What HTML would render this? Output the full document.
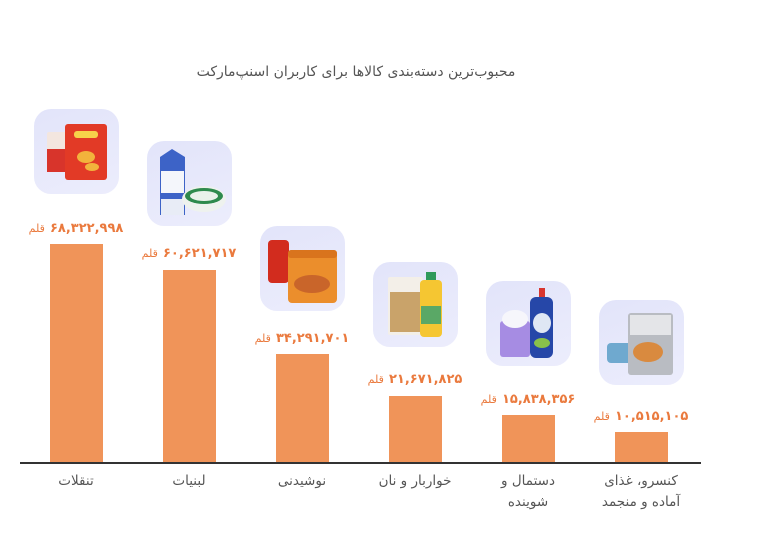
<!DOCTYPE html>
<html>
<head>
<meta charset="utf-8">
<style>
html,body{margin:0;padding:0;background:#fff;}
body{width:757px;height:551px;position:relative;overflow:hidden;font-family:"DejaVu Sans","Liberation Sans",sans-serif;}
.title{position:absolute;left:0;width:712px;top:64px;text-align:center;font-size:14px;color:#555;direction:rtl;}
.bar{position:absolute;width:53px;background:#F09459;}
.axis{position:absolute;left:20px;width:681px;top:462px;height:1.5px;background:#333;}
.val{position:absolute;width:120px;text-align:center;direction:rtl;color:#EA7A3E;white-space:nowrap;}
.val b{font-size:13px;font-weight:bold;}
.val span{font-size:11px;}
.cat{position:absolute;width:120px;text-align:center;direction:rtl;color:#555;font-size:13.5px;line-height:21px;top:471px;}
.icon{position:absolute;width:85px;height:85px;border-radius:17px;background:linear-gradient(160deg,#E2E4FA,#ECEDFC);overflow:hidden;}
.icon svg{position:absolute;left:0;top:0;}
</style>
</head>
<body>
<div class="title">محبوب‌ترین دسته‌بندی کالاها برای کاربران اسنپ‌مارکت</div>

<!-- icons -->
<div class="icon" style="left:34px;top:109px;">
<svg width="85" height="85">
<rect x="13" y="23" width="22" height="40" rx="2" fill="#f3e6df"/>
<rect x="13" y="40" width="22" height="23" fill="#d8342b"/>
<rect x="31" y="15" width="42" height="56" rx="3" fill="#e23a26"/>
<rect x="40" y="22" width="24" height="7" rx="3" fill="#f7d24a"/>
<ellipse cx="52" cy="48" rx="9" ry="6" fill="#f2b33c"/>
<ellipse cx="58" cy="58" rx="7" ry="4" fill="#f2b33c"/>
</svg>
</div>
<div class="icon" style="left:147px;top:141px;">
<svg width="85" height="85">
<polygon points="13,16 25,8 38,16 38,74 13,74" fill="#3d63c7"/>
<rect x="14" y="30" width="23" height="22" fill="#f4f6fb"/>
<rect x="14" y="58" width="23" height="16" fill="#e8ecf6"/>
<ellipse cx="57" cy="58" rx="22" ry="13" fill="#eef2ee"/>
<ellipse cx="57" cy="55" rx="19" ry="8" fill="#2e8a4d"/>
<ellipse cx="57" cy="55" rx="14" ry="5" fill="#e9f1ea"/>
</svg>
</div>
<div class="icon" style="left:260px;top:226px;">
<svg width="85" height="85">
<rect x="8" y="14" width="21" height="43" rx="4" fill="#d22c1e"/>
<rect x="28" y="24" width="49" height="53" rx="4" fill="#eb8e2c"/>
<rect x="28" y="24" width="49" height="8" rx="3" fill="#d9741d"/>
<ellipse cx="52" cy="58" rx="18" ry="9" fill="#c9652a"/>
</svg>
</div>
<div class="icon" style="left:373px;top:262px;">
<svg width="85" height="85">
<rect x="15" y="15" width="35" height="58" rx="2" fill="#f3efe8"/>
<rect x="17" y="30" width="31" height="40" fill="#c9a36a"/>
<rect x="53" y="10" width="10" height="8" fill="#2f9a5b"/>
<rect x="47" y="18" width="22" height="57" rx="4" fill="#f5c632"/>
<rect x="48" y="44" width="20" height="18" fill="#5aa866"/>
</svg>
</div>
<div class="icon" style="left:486px;top:281px;">
<svg width="85" height="85">
<rect x="14" y="40" width="30" height="36" rx="3" fill="#a68ce3"/>
<ellipse cx="29" cy="38" rx="13" ry="9" fill="#f6f6fb"/>
<rect x="53" y="7" width="6" height="10" fill="#d8352f"/>
<rect x="44" y="16" width="23" height="61" rx="6" fill="#2647a8"/>
<ellipse cx="56" cy="42" rx="9" ry="10" fill="#dfe7f4"/>
<ellipse cx="56" cy="62" rx="8" ry="5" fill="#89c04a"/>
</svg>
</div>
<div class="icon" style="left:599px;top:300px;">
<svg width="85" height="85">
<rect x="8" y="43" width="26" height="20" rx="4" fill="#6fa9cf"/>
<rect x="29" y="13" width="45" height="62" rx="3" fill="#b9bcc2"/>
<rect x="31" y="15" width="41" height="20" fill="#e4e5e8"/>
<ellipse cx="49" cy="52" rx="15" ry="10" fill="#d98a3f"/>
</svg>
</div>

<!-- value labels -->
<div class="val" style="left:16px;top:217px;"><b>۶۸,۳۲۲,۹۹۸</b> <span>قلم</span></div>
<div class="val" style="left:129px;top:242px;"><b>۶۰,۶۲۱,۷۱۷</b> <span>قلم</span></div>
<div class="val" style="left:242px;top:327px;"><b>۳۴,۲۹۱,۷۰۱</b> <span>قلم</span></div>
<div class="val" style="left:355px;top:368px;"><b>۲۱,۶۷۱,۸۲۵</b> <span>قلم</span></div>
<div class="val" style="left:468px;top:388px;"><b>۱۵,۸۳۸,۳۵۶</b> <span>قلم</span></div>
<div class="val" style="left:581px;top:405px;"><b>۱۰,۵۱۵,۱۰۵</b> <span>قلم</span></div>

<!-- bars -->
<div class="bar" style="left:50px;top:244px;height:219px;"></div>
<div class="bar" style="left:163px;top:270px;height:193px;"></div>
<div class="bar" style="left:276px;top:354px;height:109px;"></div>
<div class="bar" style="left:389px;top:396px;height:67px;"></div>
<div class="bar" style="left:502px;top:415px;height:48px;"></div>
<div class="bar" style="left:615px;top:432px;height:31px;"></div>

<div class="axis"></div>

<!-- category labels -->
<div class="cat" style="left:16px;">تنقلات</div>
<div class="cat" style="left:129px;">لبنیات</div>
<div class="cat" style="left:242px;">نوشیدنی</div>
<div class="cat" style="left:355px;">خواربار و نان</div>
<div class="cat" style="left:468px;">دستمال و<br>شوینده</div>
<div class="cat" style="left:581px;">کنسرو، غذای<br>آماده و منجمد</div>
</body>
</html>
